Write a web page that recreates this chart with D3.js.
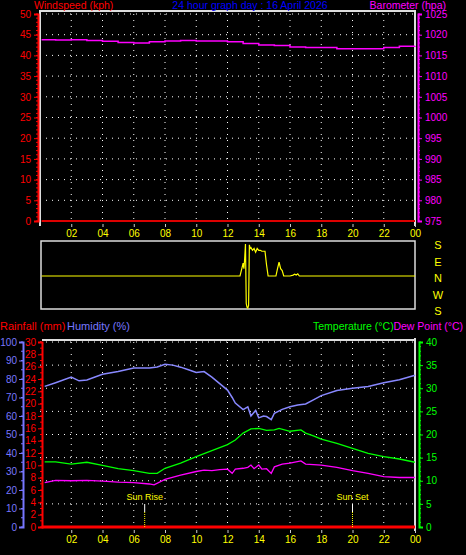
<!DOCTYPE html>
<html><head><meta charset="utf-8">
<script src="https://cdn.jsdelivr.net/npm/d3@7"></script>
<style>body{margin:0;background:#000}svg{display:block}text{font-family:"Liberation Sans",Arial,sans-serif;font-size:10px}</style>
</head><body><svg id="c" width="466" height="555"></svg>
<script>
const hourTicks=[2,4,6,8,10,12,14,16,18,20,22,24];
const hourLabels=["02","04","06","08","10","12","14","16","18","20","22","00"];
const windTicks=[0,5,10,15,20,25,30,35,40,45,50];
const baroTicks=[975,980,985,990,995,1000,1005,1010,1015,1020,1025];
const humTicks=[0,10,20,30,40,50,60,70,80,90,100];
const rainTicks=[0,2,4,6,8,10,12,14,16,18,20,22,24,26,28,30];
const tempTicks=[0,5,10,15,20,25,30,35,40];
const baroH=[0.1,1,2,3,4,5,6,7,8,9,10,11,12,13,14,15,16,17,18,19,20,21,22,23,24];
const baroV=[1018.8,1018.7,1018.8,1018.6,1018.4,1018.1,1018.0,1018.3,1018.5,1018.6,1018.5,1018.5,1018.3,1017.9,1017.5,1017.4,1017.0,1016.9,1016.9,1016.6,1016.6,1016.6,1016.9,1017.2,1017.3];
const windSpH=[0.1,24];
const windSpV=[0,0];
const dirH=[0.1,12.8,12.9,13.0,13.05,13.1,13.15,13.2,13.25,13.3,13.35,13.4,13.45,13.5,13.6,13.7,13.8,13.9,14.0,14.1,14.2,14.4,14.5,14.6,15.1,15.2,15.3,15.4,15.5,15.6,16.0,16.2,16.3,16.4,16.5,16.6,16.7,24];
const dirV=[0,0,35,70,40,95,175,-150,-170,-175,-160,170,150,155,140,150,130,150,140,140,135,135,60,0,0,40,75,40,30,0,0,5,10,5,12,0,0,0];
const humH=[0.3,1,2,2.5,3,4,5,6,7,7.5,8,8.5,9,9.5,10,10.5,11,11.5,12,12.3,12.5,13,13.3,13.5,13.8,14,14.3,14.5,14.8,15,15.5,16,16.5,17,17.5,18,19,20,21,22,23,24];
const humV=[76,78,81,79,79.5,82.6,84,86,86,86.5,88,87.5,86.4,85,83.5,84,81,77.5,74,70,67,63.5,65,60,63,59,60,59.7,58,61.5,63.6,65,66,66.5,68.7,71,73.8,75,76,78,79.6,82];
const tempH=[0.3,1,2,3,4,5,6,7,7.5,8,9,10,11,12,12.5,13,13.5,14,14.5,15,15.3,16,16.7,17,17.5,18,19,20,21,22,23,24];
const tempV=[14.1,14.1,13.6,14,13.3,12.6,12.2,11.6,11.6,12.7,13.8,15.2,16.5,17.8,18.8,20.3,21.2,21.3,20.9,21,21.3,20.7,21,20.3,19.7,19,18.1,17,15.9,15.2,14.7,14];
const dewH=[0.3,1,2,3,4,5,6,7,7.3,8,9,10,10.5,11,11.5,12,12.3,12.5,13,13.3,13.5,13.7,14,14.2,14.5,14.8,15,15.5,16,16.7,17,18,19,20,21,22,23,24];
const dewV=[9.6,10.1,10.0,10.1,9.9,9.7,9.6,9.3,9.1,10.3,11.2,12,12.3,12.2,12.4,12.5,11.6,12.5,12.7,12.9,13.4,12.6,13.4,12.5,12.6,11.6,13,13.6,13.8,14.3,13.6,13.4,12.9,12.2,11.6,10.9,10.7,10.7];
const rainH=[0.1,24];
const rainV=[0,0];

const svg=d3.select("#c");
const X0=40,X1=415;
const x=d3.scaleLinear().domain([0,24]).range([X0,X1]);
function grid(g,y,ticks,top,bot){
  ticks.forEach(t=>g.append("line").attr("x1",X0).attr("x2",X1).attr("y1",y(t)).attr("y2",y(t)).attr("stroke","#fff").attr("stroke-dasharray","1,5"));
  hourTicks.slice(0,-1).forEach(h=>g.append("line").attr("x1",x(h)).attr("x2",x(h)).attr("y1",top).attr("y2",bot).attr("stroke","#fff").attr("stroke-dasharray","1,5"));
}
function xAxis(yPos){
  const ax=d3.axisBottom(x).tickValues(hourTicks).tickFormat((d,i)=>hourLabels[i]).tickSize(3);
  const g=svg.append("g").attr("transform",`translate(0,${yPos})`).call(ax);
  g.select(".domain").remove();
  g.selectAll("line").attr("stroke","#ccc");
  g.selectAll("text").attr("fill","#ff0").style("font-size","10px");
}
function yAx(scale,ticks,xPos,color,left,minor,pad){
  const ax=(left?d3.axisLeft:d3.axisRight)(scale).tickValues(ticks).tickFormat(d3.format("d")).tickSize(4).tickPadding(pad||3);
  const g=svg.append("g").attr("transform",`translate(${xPos},0)`).call(ax);
  g.select(".domain").attr("stroke",color).attr("stroke-width",2);
  g.selectAll("line").attr("stroke",color);
  g.selectAll("text").attr("fill",color).style("font-size","10px");
  if(minor){const mt=d3.range(scale.domain()[0],scale.domain()[1]+1e-9,minor);
    mt.forEach(t=>g.append("line").attr("x1",0).attr("x2",left?-2:2).attr("y1",scale(t)).attr("y2",scale(t)).attr("stroke",color));}
  return g;
}
const line=(xs,ys,sx,sy)=>d3.line()(xs.map((h,i)=>[sx(h),sy(ys[i])]));
// top panel
const yW=d3.scaleLinear().domain([0,50]).range([221,14]);
const yB=d3.scaleLinear().domain([975,1025]).range([221,14]);
grid(svg.append("g"),yW,windTicks.slice(1),14,221);
svg.append("line").attr("x1",X0).attr("x2",X0).attr("y1",10).attr("y2",226).attr("stroke","#ddd").attr("stroke-width",2);
svg.append("line").attr("x1",X1).attr("x2",X1).attr("y1",10).attr("y2",226).attr("stroke","#ddd").attr("stroke-width",2);
svg.append("line").attr("x1",X0).attr("x2",X1).attr("y1",11).attr("y2",11).attr("stroke","#ddd").attr("stroke-width",2);
yAx(yW,windTicks,38,"#f00",true,1);
yAx(yB,baroTicks,418,"#f0f",false,1);
svg.append("path").attr("d",line(windSpH,windSpV,x,yW)).attr("stroke","#d00").attr("stroke-width",2).attr("fill","none");
svg.append("path").attr("d",d3.line().curve(d3.curveStepAfter)(baroH.map((h,i)=>[x(h),yB(baroV[i])]))).attr("stroke","#f0f").attr("stroke-width",1.5).attr("fill","none");
xAxis(224);
svg.append("text").attr("x",34).attr("y",9).attr("fill","#f00").style("font-size","10.5px").text("Windspeed (kph)");
svg.append("text").attr("x",250).attr("y",9).attr("fill","#00f").attr("text-anchor","middle").style("font-size","10.5px").text("24 hour graph day : 16 April 2026");
svg.append("text").attr("x",446).attr("y",9).attr("fill","#f0f").attr("text-anchor","end").style("font-size","10.5px").text("Barometer (hpa)");
// direction panel
const yD=d3.scaleLinear().domain([-180,180]).range([309,243]);
svg.append("rect").attr("x",41).attr("y",241).attr("width",374).attr("height",68).attr("fill","none").attr("stroke","#ddd").attr("stroke-width",1.5);
svg.append("path").attr("d",d3.line()(dirH.map((h,i)=>[x(h),yD(dirV[i])]))).attr("stroke","#ff0").attr("stroke-width",1.2).attr("fill","none");
["S","E","N","W","S"].forEach((s,i)=>svg.append("text").attr("x",438).attr("y",249+i*16.5).attr("fill","#ff0").attr("text-anchor","middle").style("font-size","11px").text(s));
// bottom panel
const yH=d3.scaleLinear().domain([0,100]).range([527,342]);
const yR=d3.scaleLinear().domain([0,30]).range([527,342]);
const yT=d3.scaleLinear().domain([0,40]).range([527,342]);
grid(svg.append("g"),yT,tempTicks.slice(1),342,527);
svg.append("line").attr("x1",X1).attr("x2",X1).attr("y1",338).attr("y2",531).attr("stroke","#ddd").attr("stroke-width",2);
svg.append("line").attr("x1",X0+2).attr("x2",X1).attr("y1",340).attr("y2",340).attr("stroke","#ddd").attr("stroke-width",2);
yAx(yH,humTicks,23,"#77f",true,5,2);
yAx(yR,rainTicks,42,"#f00",true,1,2);
yAx(yT,tempTicks,419,"#0f0",false,1);
svg.append("path").attr("d",line(humH,humV,x,yH)).attr("stroke","#88f").attr("stroke-width",1.5).attr("fill","none");
svg.append("path").attr("d",line(tempH,tempV,x,yT)).attr("stroke","#0f0").attr("stroke-width",1.3).attr("fill","none");
svg.append("path").attr("d",line(dewH,dewV,x,yT)).attr("stroke","#f0f").attr("stroke-width",1.3).attr("fill","none");
svg.append("path").attr("d",line(rainH,rainV,x,yR)).attr("stroke","#f00").attr("stroke-width",3).attr("fill","none");
[[6.7,"Sun Rise"],[20,"Sun Set"]].forEach(([h,t])=>{
  svg.append("line").attr("x1",x(h)).attr("x2",x(h)).attr("y1",504).attr("y2",512).attr("stroke","#fff");
  svg.append("line").attr("x1",x(h)).attr("x2",x(h)).attr("y1",512).attr("y2",527).attr("stroke","#ff0").attr("stroke-dasharray","1,1");
  svg.append("text").attr("x",x(h)).attr("y",500).attr("fill","#ff0").attr("text-anchor","middle").style("font-size","9px").text(t);
});
xAxis(530);
svg.append("text").attr("x",0).attr("y",330).attr("fill","#f00").style("font-size","11px").text("Rainfall (mm)");
svg.append("text").attr("x",67).attr("y",330).attr("fill","#77f").style("font-size","11px").text("Humidity (%)");
svg.append("text").attr("x",313).attr("y",330).attr("fill","#0f0").style("font-size","10.5px").text("Temperature (°C)");
svg.append("text").attr("x",463).attr("y",330).attr("fill","#f0f").attr("text-anchor","end").style("font-size","10.5px").text("Dew Point (°C)");
</script></body></html>
